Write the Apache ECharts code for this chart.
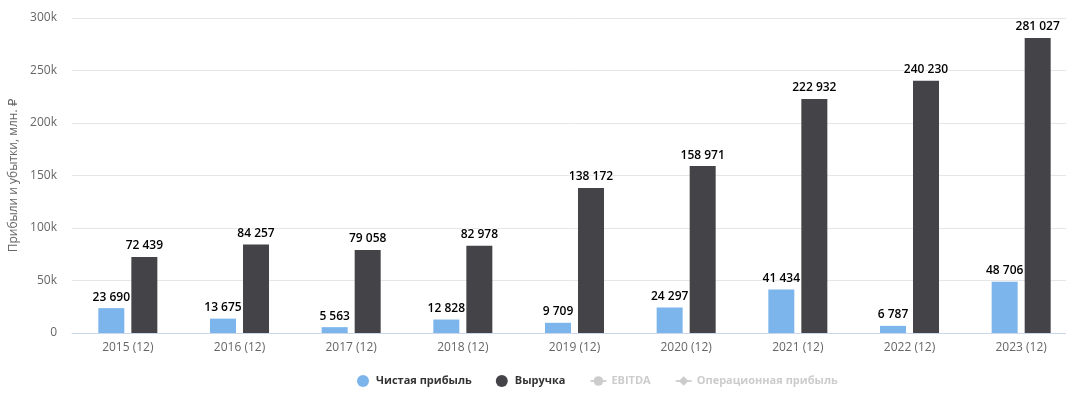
<!DOCTYPE html>
<html><head><meta charset="utf-8">
<script src="https://cdn.jsdelivr.net/npm/echarts@6/dist/echarts.min.js"></script>
<style>html,body{margin:0;padding:0;background:#fff}#c{width:1066px;height:394px}</style>
</head><body><div id="c"></div>
<script>
const categories = ['2015 (12)','2016 (12)','2017 (12)','2018 (12)','2019 (12)','2020 (12)','2021 (12)','2022 (12)','2023 (12)'];
const netProfit = [23690, 13675, 5563, 12828, 9709, 24297, 41434, 6787, 48706];
const revenue = [72439, 84257, 79058, 82978, 138172, 158971, 222932, 240230, 281027];
const ebitda = [];
const opProfit = [];
const yTicks = [0, 50000, 100000, 150000, 200000, 250000, 300000];

const fmt = v => String(v).replace(/\B(?=(\d{3})+(?!\d))/g, ' ');
const FONT = '"Open Sans", "DejaVu Sans", sans-serif';
const labelCfg = {
  show: true, position: 'top', distance: 5,
  formatter: p => fmt(p.value),
  color: '#000', fontWeight: 600, fontSize: 12, fontFamily: FONT,
  textBorderColor: '#fff', textBorderWidth: 2
};
const chart = echarts.init(document.getElementById('c'));
chart.setOption({
  animation: false,
  textStyle: { fontFamily: FONT },
  grid: { left: 72, width: 1005, top: 18, bottom: 61, containLabel: false, outerBoundsMode: 'none' },
  legend: {
    bottom: 2, left: 352,
    itemWidth: 16, itemHeight: 12, itemGap: 24,
    textStyle: { fontSize: 11, fontWeight: 'bold', color: '#333', fontFamily: FONT },
    inactiveColor: '#cccccc',
    data: [
      { name: 'Чистая прибыль', icon: 'circle' },
      { name: 'Выручка', icon: 'circle' },
      { name: 'EBITDA' },
      { name: 'Операционная прибыль' }
    ],
    selected: { 'EBITDA': false, 'Операционная прибыль': false }
  },
  xAxis: {
    type: 'category', data: categories,
    axisLine: { lineStyle: { color: '#ccd6eb' } },
    axisTick: { show: false },
    axisLabel: { color: '#666', fontSize: 12, margin: 9, fontFamily: FONT }
  },
  yAxis: {
    type: 'value', min: 0, max: yTicks[yTicks.length - 1], interval: 50000,
    name: 'Прибыли и убытки, млн. ₽', nameLocation: 'middle', nameGap: 51,
    nameTextStyle: { color: '#666', fontSize: 12, fontFamily: FONT },
    axisLabel: { color: '#666', fontSize: 12, margin: 15, fontFamily: FONT,
      formatter: v => v === 0 ? '0' : (v / 1000) + 'k' },
    splitLine: { lineStyle: { color: '#e6e6e6' } },
    axisLine: { show: false }, axisTick: { show: false }
  },
  series: [
    { name: 'Чистая прибыль', type: 'bar', data: netProfit, barWidth: 26, barGap: '27%',
      itemStyle: { color: '#7cb5ec' }, label: labelCfg },
    { name: 'Выручка', type: 'bar', data: revenue, barWidth: 26,
      itemStyle: { color: '#434348' }, label: labelCfg },
    { name: 'EBITDA', type: 'line', data: ebitda, symbol: 'circle', symbolSize: 7, itemStyle: { color: '#90ed7d' } },
    { name: 'Операционная прибыль', type: 'line', data: opProfit, symbol: 'diamond', symbolSize: 7, itemStyle: { color: '#f7a35c' } }
  ]
});
</script>
</body></html>
